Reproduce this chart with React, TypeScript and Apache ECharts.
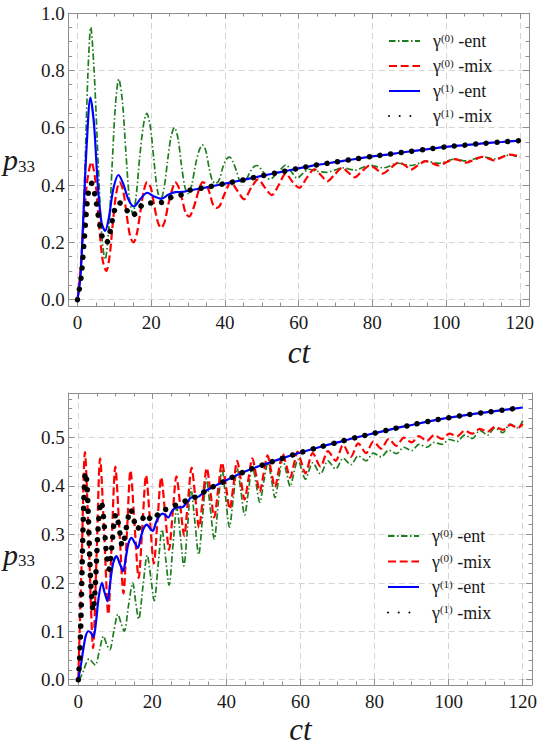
import React, { useEffect, useRef } from 'react';
import * as echarts from 'echarts';

// Legend entries (shared by both panels)
const legendNames = ['γ(0) -ent', 'γ(0) -mix', 'γ(1) -ent', 'γ(1) -mix'];

// ---------- upper panel: [ct, p33] ----------
const topGreenEnt = [
  [0, 0], [1, 0.12], [2, 0.45], [2.8, 0.78], [3.6, 0.95], [4.5, 0.8], [5.6, 0.48], [6.6, 0.22], [7.5, 0.14],
  [8.5, 0.25], [9.4, 0.47], [10.3, 0.68], [11.2, 0.77], [12.2, 0.69], [13.1, 0.52], [14.1, 0.35], [15.0, 0.3],
  [15.9, 0.36], [16.9, 0.5], [17.9, 0.61], [18.8, 0.65], [19.8, 0.6], [20.7, 0.49], [21.7, 0.38], [22.6, 0.35],
  [23.5, 0.39], [24.5, 0.49], [25.4, 0.57], [26.3, 0.6], [27.3, 0.56], [28.2, 0.47], [29.2, 0.39], [30.1, 0.37],
  [31.0, 0.4], [32.0, 0.47], [33.0, 0.52], [33.9, 0.54], [34.8, 0.52], [35.7, 0.46], [36.6, 0.415], [37.5, 0.405],
  [38.5, 0.42], [39.4, 0.46], [40.4, 0.49], [41.3, 0.497], [42.2, 0.48], [43.1, 0.45], [44.0, 0.415], [44.8, 0.408],
  [45.8, 0.42], [46.8, 0.445], [47.8, 0.463], [48.7, 0.468], [50.4, 0.445], [52.2, 0.42], [54.4, 0.445],
  [56.6, 0.47], [58.1, 0.445], [59.6, 0.424], [61.1, 0.44], [62.7, 0.455], [65.0, 0.448], [67.5, 0.444],
  [69.8, 0.452], [72.0, 0.46], [75.2, 0.452], [79.2, 0.468], [83.0, 0.46], [87.0, 0.476], [90.6, 0.468],
  [94.5, 0.483], [98.0, 0.476], [102.2, 0.49], [105.5, 0.484], [109.8, 0.498], [113.2, 0.491], [117.4, 0.505],
  [120, 0.497],
];

const topRedMix = [
  [0, 0], [0.8, 0.1], [1.6, 0.25], [2.6, 0.41], [3.8, 0.48], [4.8, 0.42], [5.8, 0.27], [6.8, 0.14], [7.8, 0.1],
  [8.7, 0.15], [9.6, 0.27], [10.5, 0.37], [11.4, 0.41], [12.4, 0.38], [13.3, 0.3], [14.3, 0.22], [15.2, 0.2],
  [16.1, 0.23], [17.1, 0.31], [18.0, 0.38], [18.9, 0.41], [19.9, 0.39], [20.8, 0.33], [21.8, 0.27], [22.7, 0.25],
  [23.6, 0.27], [24.6, 0.33], [25.6, 0.38], [26.5, 0.41], [27.5, 0.39], [28.4, 0.35], [29.4, 0.3], [30.3, 0.29],
  [31.2, 0.31], [32.2, 0.35], [33.1, 0.39], [34.0, 0.41], [35.0, 0.4], [35.9, 0.37], [36.8, 0.33], [37.8, 0.32],
  [38.7, 0.33], [39.6, 0.36], [40.6, 0.39], [41.5, 0.41], [43.4, 0.38], [45.2, 0.35], [47.1, 0.39], [49.0, 0.42],
  [50.9, 0.39], [52.7, 0.365], [54.6, 0.4], [56.5, 0.44], [58.4, 0.41], [60.2, 0.39], [62.2, 0.425], [64.3, 0.455],
  [66.0, 0.435], [67.8, 0.413], [69.8, 0.437], [71.8, 0.46], [73.5, 0.443], [75.2, 0.427], [77.3, 0.45],
  [79.4, 0.468], [81.1, 0.455], [82.8, 0.44], [85.0, 0.46], [87.2, 0.479], [88.9, 0.468], [90.5, 0.454],
  [92.5, 0.47], [94.5, 0.483], [96.2, 0.476], [98.0, 0.468], [100.2, 0.48], [102.3, 0.49], [103.9, 0.485],
  [105.5, 0.478], [107.7, 0.489], [109.8, 0.498], [111.4, 0.493], [113.0, 0.486], [115.2, 0.497], [117.3, 0.506],
  [120, 0.5],
];

const topBlueEnt = [
  [0, 0], [0.8, 0.08], [1.7, 0.32], [2.5, 0.54], [3.5, 0.705], [4.5, 0.61], [5.5, 0.4], [6.5, 0.27], [7.5, 0.24],
  [8.5, 0.285], [9.7, 0.385], [11.1, 0.435], [12.4, 0.405], [13.8, 0.35], [15.3, 0.325], [17.0, 0.35],
  [18.9, 0.373], [20.8, 0.36], [22.7, 0.352], [24.6, 0.366], [26.5, 0.375], [28.5, 0.376], [30, 0.38],
  [35, 0.392], [40, 0.405], [45, 0.418], [50, 0.432], [55, 0.445], [60, 0.458], [65, 0.47], [70, 0.48],
  [75, 0.49], [80, 0.5], [85, 0.508], [90, 0.517], [95, 0.525], [100, 0.533], [105, 0.539], [110, 0.545],
  [115, 0.55], [120, 0.555],
];

const topBlackMix = [
  [0, 0], [1, 0.08], [1.9, 0.22], [2.9, 0.37], [3.8, 0.406], [4.8, 0.36], [5.8, 0.28], [6.8, 0.215], [7.8, 0.197],
  [8.8, 0.235], [9.9, 0.305], [11.1, 0.339], [12.9, 0.324], [14.4, 0.292], [16.2, 0.305], [18.0, 0.336],
  [20.7, 0.338], [23.3, 0.34], [25.8, 0.36], [28.5, 0.367], [30, 0.38], [35, 0.392], [40, 0.405], [45, 0.418],
  [50, 0.432], [55, 0.445], [60, 0.458], [65, 0.47], [70, 0.48], [75, 0.49], [80, 0.5], [85, 0.508], [90, 0.517],
  [95, 0.525], [100, 0.533], [105, 0.539], [110, 0.545], [115, 0.55], [120, 0.555],
];

// ---------- lower panel: [ct, p33] ----------
const botGreenEnt = [
  [0, 0], [0.7, 0.006], [1.4, 0.018], [2.2, 0.035], [2.9, 0.043], [3.8, 0.036], [4.6, 0.03], [5.7, 0.06],
  [6.8, 0.09], [7.7, 0.072], [8.5, 0.062], [9.6, 0.1], [10.7, 0.135], [11.6, 0.115], [12.4, 0.1], [13.6, 0.155],
  [14.7, 0.2], [15.5, 0.16], [16.3, 0.125], [17.5, 0.195], [18.6, 0.257], [19.6, 0.21], [20.5, 0.163],
  [21.6, 0.24], [22.6, 0.31], [23.6, 0.25], [24.5, 0.195], [25.6, 0.28], [26.6, 0.355], [27.6, 0.295],
  [28.5, 0.235], [29.5, 0.315], [30.4, 0.395], [31.5, 0.325], [32.5, 0.258], [33.6, 0.34], [34.6, 0.415],
  [35.7, 0.35], [36.7, 0.29], [37.8, 0.365], [38.8, 0.435], [39.8, 0.375], [40.8, 0.315], [41.9, 0.378],
  [42.9, 0.437], [43.9, 0.39], [44.9, 0.34], [46.0, 0.393], [47.0, 0.442], [48.0, 0.405], [49.0, 0.366],
  [50.1, 0.41], [51.2, 0.448], [52.2, 0.412], [53.1, 0.376], [54.2, 0.418], [55.2, 0.455], [56.2, 0.428],
  [57.2, 0.399], [58.3, 0.43], [59.3, 0.455], [60.3, 0.434], [61.3, 0.414], [63.3, 0.448], [65.4, 0.425],
  [67.4, 0.452], [69.5, 0.435], [71.5, 0.457], [73.6, 0.444], [75.6, 0.462], [77.7, 0.452], [79.7, 0.468],
  [81.8, 0.46], [83.8, 0.474], [85.9, 0.467], [87.9, 0.48], [90, 0.473], [92, 0.486], [94.1, 0.48], [96.1, 0.49],
  [98.2, 0.486], [100.2, 0.496], [102.3, 0.492], [104.3, 0.505], [106.4, 0.498], [108.4, 0.515], [110.5, 0.505],
  [112.5, 0.52], [114.6, 0.51], [116.6, 0.528], [118.7, 0.52], [120, 0.535],
];

const botRedMix = [
  [0, 0], [0.9, 0.24], [1.8, 0.47], [2.9, 0.27], [4.0, 0.065], [4.95, 0.26], [5.9, 0.457], [7.0, 0.3],
  [8.1, 0.135], [9.05, 0.29], [10.0, 0.44], [11.1, 0.31], [12.2, 0.178], [13.15, 0.305], [14.1, 0.432],
  [15.2, 0.32], [16.3, 0.21], [17.3, 0.315], [18.3, 0.422], [19.35, 0.33], [20.4, 0.24], [21.4, 0.33],
  [22.4, 0.418], [23.45, 0.343], [24.5, 0.268], [25.5, 0.345], [26.5, 0.42], [27.55, 0.358], [28.6, 0.297],
  [29.6, 0.368], [30.6, 0.438], [31.6, 0.376], [32.6, 0.314], [33.65, 0.376], [34.7, 0.437], [35.7, 0.386],
  [36.7, 0.335], [37.75, 0.392], [38.8, 0.448], [39.85, 0.4], [40.9, 0.352], [41.9, 0.402], [42.9, 0.452],
  [43.9, 0.412], [44.9, 0.372], [45.95, 0.415], [47.0, 0.457], [48.0, 0.423], [49.0, 0.388], [50.05, 0.426],
  [51.1, 0.463], [52.1, 0.43], [53.1, 0.398], [54.15, 0.433], [55.2, 0.467], [56.2, 0.442], [57.2, 0.417],
  [58.2, 0.444], [59.2, 0.471], [60.25, 0.448], [61.3, 0.426], [63.3, 0.468], [65.4, 0.44], [67.4, 0.472],
  [69.5, 0.452], [71.5, 0.485], [73.6, 0.46], [75.6, 0.488], [77.7, 0.468], [79.7, 0.492], [81.8, 0.477],
  [83.8, 0.497], [85.9, 0.483], [87.9, 0.5], [90, 0.49], [92, 0.503], [94.1, 0.493], [96.1, 0.505], [98.2, 0.497],
  [100.2, 0.508], [102.3, 0.503], [104.3, 0.514], [106.4, 0.508], [108.4, 0.518], [110.5, 0.512], [112.5, 0.522],
  [114.6, 0.516], [116.6, 0.526], [118.7, 0.52], [120, 0.528],
];

const botBlueEnt = [
  [0, 0], [0.7, 0.03], [1.4, 0.065], [2.0, 0.09], [2.7, 0.1], [3.4, 0.097], [4.1, 0.088], [4.8, 0.12],
  [5.5, 0.17], [6.4, 0.2], [7.1, 0.18], [7.9, 0.162], [8.6, 0.2], [9.4, 0.24], [10.3, 0.255], [11.2, 0.24],
  [12.1, 0.224], [12.9, 0.255], [13.6, 0.283], [14.4, 0.293], [15.2, 0.283], [16.1, 0.272], [16.9, 0.295],
  [17.7, 0.313], [18.5, 0.32], [19.3, 0.313], [20.1, 0.307], [21.0, 0.325], [21.9, 0.338], [22.8, 0.343],
  [23.6, 0.339], [24.3, 0.335], [25.3, 0.348], [26.5, 0.356], [27.5, 0.356], [28.3, 0.357], [29.5, 0.368],
  [30.5, 0.376], [31.5, 0.377], [32.5, 0.378], [34, 0.388], [36, 0.397], [38, 0.404], [40, 0.412], [45, 0.43],
  [50, 0.444], [55, 0.457], [60, 0.469], [65, 0.48], [70, 0.49], [75, 0.5], [80, 0.509], [85, 0.518],
  [90, 0.526], [95, 0.534], [100, 0.541], [105, 0.547], [110, 0.552], [115, 0.557], [120, 0.562],
];

const botBlackMix = [
  [0, 0], [0.4, 0.05], [0.8, 0.15], [1.2, 0.29], [1.6, 0.39], [1.9, 0.428], [2.3, 0.41], [2.7, 0.34],
  [3.1, 0.25], [3.5, 0.18], [4.0, 0.142], [4.5, 0.18], [5.0, 0.26], [5.5, 0.33], [6.2, 0.368], [6.9, 0.33],
  [7.5, 0.27], [8.3, 0.228], [9.0, 0.27], [9.6, 0.32], [10.2, 0.342], [11.0, 0.315], [11.9, 0.276], [13.0, 0.315],
  [14.1, 0.352], [15.0, 0.33], [15.9, 0.31], [17.0, 0.325], [18.2, 0.342], [19.3, 0.333], [20.5, 0.33],
  [21.5, 0.342], [22.5, 0.35], [24.0, 0.352], [25.5, 0.358], [27.0, 0.362], [28.5, 0.367], [30.5, 0.376],
  [32.5, 0.378], [34, 0.388], [36, 0.397], [38, 0.404], [40, 0.412], [45, 0.43], [50, 0.444], [55, 0.457],
  [60, 0.469], [65, 0.48], [70, 0.49], [75, 0.5], [80, 0.509], [85, 0.518], [90, 0.526], [95, 0.534],
  [100, 0.541], [105, 0.547], [110, 0.552], [115, 0.557], [120, 0.562],
];

const SERIF = 'Liberation Serif';
const FRAME = '#8f8f8f';
const INK = '#1a1a1a';

const seriesLooks = [
  { color: '#1e7d1e', width: 1.7, type: [6.5, 2.5, 1.5, 2.5], cap: 'butt' },
  { color: '#ff0000', width: 2.2, type: [8, 3.7], cap: 'butt' },
  { color: '#0000ff', width: 2.2, type: 'solid', cap: 'butt' },
  { color: '#000000', width: 5.5, type: [0.01, 10.7], cap: 'round' },
];

type Panel = {
  grid: { left: number; top: number; width: number; height: number };
  xExt: [number, number];
  yExt: [number, number];
  ySplit: number;
  yStep: number;
  yMinor: number;
  xNameGap: number;
  yNamePad: number[];
  legend: { left: number; top: number; gap: number };
  data: number[][][];
};

const panels: Panel[] = [
  {
    grid: { left: 57, top: 13, width: 472, height: 293 },
    xExt: [-2.4, 122.5],
    yExt: [-0.022, 1.0],
    ySplit: 5,
    yStep: 0.2,
    yMinor: 4,
    xNameGap: 31,
    yNamePad: [0, 0, 0, 0],
    legend: { left: 388, top: 32, gap: 7 },
    data: [topGreenEnt, topRedMix, topBlueEnt, topBlackMix],
  },
  {
    grid: { left: 58, top: 393, width: 474, height: 292 },
    xExt: [-2.6, 122.5],
    yExt: [-0.011, 0.592],
    ySplit: 6,
    yStep: 0.1,
    yMinor: 5,
    xNameGap: 29,
    yNamePad: [30, 0, 0, 0],
    legend: { left: 387, top: 527, gap: 7.5 },
    data: [botGreenEnt, botRedMix, botBlueEnt, botBlackMix],
  },
];

const isMultiple = (v: number, step: number) => Math.abs(v / step - Math.round(v / step)) < 1e-6;

function buildOption() {
  const grid: any[] = [];
  const xAxis: any[] = [];
  const yAxis: any[] = [];
  const series: any[] = [];
  const legend: any[] = [];

  panels.forEach((p, gi) => {
    grid.push({ ...p.grid, containLabel: false });

    const tickCommon = {
      axisLine: { show: true, onZero: false, lineStyle: { color: FRAME, width: 1 } },
      axisTick: { show: true, inside: true, length: 6, lineStyle: { color: FRAME, width: 1 } },
      minorTick: { show: true, length: 3.5, lineStyle: { color: FRAME, width: 1 } },
    };
    const xCommon = {
      type: 'value', gridIndex: gi, min: p.xExt[0], max: p.xExt[1], splitNumber: 6, ...tickCommon,
      minorTick: { ...tickCommon.minorTick, splitNumber: 4 },
    };
    const yCommon = {
      type: 'value', gridIndex: gi, min: p.yExt[0], max: p.yExt[1], splitNumber: p.ySplit, ...tickCommon,
      minorTick: { ...tickCommon.minorTick, splitNumber: p.yMinor },
    };
    const gridLine = {
      show: true, showMinLine: false, showMaxLine: false,
      lineStyle: { color: '#d4d4d4', width: 1, type: [6, 4] },
    };

    xAxis.push({
      ...xCommon,
      position: 'bottom',
      axisLabel: {
        show: true, margin: 8, fontFamily: SERIF, fontSize: 19, lineHeight: 17, color: INK,
        formatter: (v: number) => (isMultiple(v, 20) ? String(Math.round(v)) : ''),
      },
      splitLine: gridLine,
      name: 'ct',
      nameLocation: 'middle',
      nameGap: p.xNameGap,
      nameTextStyle: {
        fontFamily: SERIF, fontStyle: 'italic', fontSize: 31, lineHeight: 30, color: INK, verticalAlign: 'top',
      },
    });
    xAxis.push({ ...xCommon, position: 'top', axisLabel: { show: false }, splitLine: { show: false } });

    yAxis.push({
      ...yCommon,
      position: 'left',
      axisLabel: {
        show: true, margin: 4, fontFamily: SERIF, fontSize: 19, color: INK,
        formatter: (v: number) => (isMultiple(v, p.yStep) ? v.toFixed(1) : ''),
      },
      splitLine: gridLine,
      name: '{p|p}{s|33}',
      nameLocation: 'middle',
      nameRotate: 0,
      nameGap: 21,
      nameTextStyle: {
        padding: p.yNamePad,
        rich: {
          p: { fontFamily: SERIF, fontStyle: 'italic', fontSize: 30, color: INK, lineHeight: 30, verticalAlign: 'top' },
          s: { fontFamily: SERIF, fontSize: 17, color: INK, lineHeight: 17, verticalAlign: 'bottom' },
        },
      },
    });
    yAxis.push({ ...yCommon, position: 'right', axisLabel: { show: false }, splitLine: { show: false } });

    p.data.forEach((d, si) => {
      const look = seriesLooks[si];
      series.push({
        type: 'line',
        name: legendNames[si],
        xAxisIndex: gi * 2,
        yAxisIndex: gi * 2,
        data: d,
        symbol: 'none',
        smooth: 0.3,
        clip: true,
        lineStyle: { color: look.color, width: look.width, type: look.type, cap: look.cap },
        itemStyle: { color: look.color, opacity: 0 },
        emphasis: { disabled: true },
        z: 2 + si,
      });
    });

    legend.push({
      show: true,
      orient: 'vertical',
      left: p.legend.left,
      top: p.legend.top,
      padding: 0,
      itemGap: p.legend.gap,
      itemWidth: 31,
      itemHeight: 14,
      selectedMode: false,
      data: legendNames,
      itemStyle: { opacity: 0, color: 'transparent', borderWidth: 0 },
      formatter: (name: string) => {
        const m = /^γ\((\d)\) (.+)$/.exec(name);
        return m ? `{g|γ}{s|(${m[1]})}{t| ${m[2]}}` : name;
      },
      textStyle: {
        color: INK,
        fontFamily: SERIF,
        rich: {
          g: { fontFamily: SERIF, fontSize: 18, color: INK, lineHeight: 18, padding: [0, 0, 0, 8] },
          s: { fontFamily: SERIF, fontSize: 11, color: INK, lineHeight: 11, verticalAlign: 'top' },
          t: { fontFamily: SERIF, fontSize: 18, color: INK, lineHeight: 18 },
        },
      },
    });
  });

  return {
    animation: false,
    backgroundColor: '#ffffff',
    textStyle: { fontFamily: SERIF },
    grid,
    xAxis,
    yAxis,
    legend,
    series,
  };
}

export default function App() {
  const ref = useRef<HTMLDivElement>(null);
  useEffect(() => {
    if (!ref.current) return;
    const chart = echarts.init(ref.current, null, { renderer: 'svg' });
    chart.setOption(buildOption() as any);
    return () => chart.dispose();
  }, []);
  return (
    <div
      ref={ref}
      style={{ position: 'absolute', left: 0, top: 0, width: 544, height: 754, background: '#fff' }}
    />
  );
}
